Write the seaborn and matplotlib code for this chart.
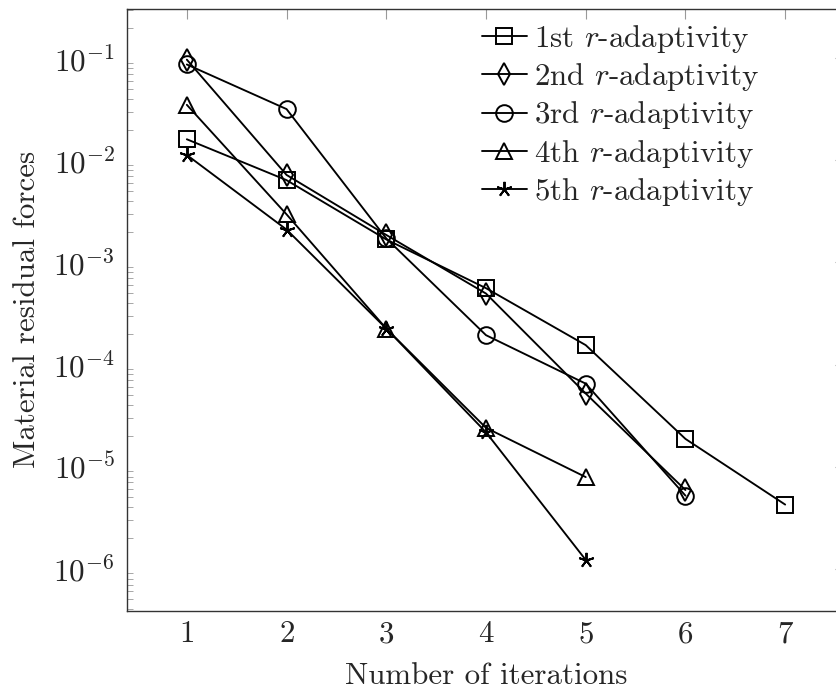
import numpy as np
import pandas as pd
import matplotlib
matplotlib.use("Agg")
import matplotlib.pyplot as plt
import matplotlib.ticker as mticker
import seaborn as sns

sns.set_theme(style="white")
plt.rcParams['font.family'] = 'serif'
plt.rcParams['font.serif'] = ['cmr10', 'DejaVu Serif']
plt.rcParams['mathtext.fontset'] = 'cm'
plt.rcParams['axes.formatter.use_mathtext'] = True
plt.rcParams['axes.unicode_minus'] = False

# =============================================================================
# DATA
# =============================================================================
iters_1 = [1, 2, 3, 4, 5, 6, 7]
res_1 = [1.61e-2, 6.4e-3, 1.68e-3, 5.6e-4, 1.55e-4, 1.87e-5, 4.25e-6]

iters_2 = [1, 2, 3, 4, 5, 6]
res_2 = [9.7e-2, 7.2e-3, 1.86e-3, 4.96e-4, 5.2e-5, 5.9e-6]

iters_3 = [1, 2, 3, 4, 5, 6]
res_3 = [8.7e-2, 3.18e-2, 1.72e-3, 1.94e-4, 6.5e-5, 5.2e-6]

iters_4 = [1, 2, 3, 4, 5]
res_4 = [3.5e-2, 2.96e-3, 2.25e-4, 2.4e-5, 7.9e-6]

iters_5 = [1, 2, 3, 4, 5]
res_5 = [1.13e-2, 2.1e-3, 2.25e-4, 2.17e-5, 1.22e-6]

labels = ['1st $r$-adaptivity', '2nd $r$-adaptivity', '3rd $r$-adaptivity',
          '4th $r$-adaptivity', '5th $r$-adaptivity']
markers = ['s', 'd', 'o', '^', (5, 2, 0)]
marker_sizes = [12, 11, 12, 11, 11]

series = [(iters_1, res_1), (iters_2, res_2), (iters_3, res_3),
          (iters_4, res_4), (iters_5, res_5)]

FS = 22.3  # every text in the reference has the same size

# =============================================================================
# PLOT
# =============================================================================
W, H = 837, 691
fig = plt.figure(figsize=(W / 100, H / 100), dpi=100)
# right spine lies just outside the canvas, as in the reference crop
left, right, top, bottom = 127, 845, 9, 610.7
ax = fig.add_axes([left / W, 1 - bottom / H, (right - left) / W, (bottom - top) / H])

for (xs, ys), lab, mk, ms in zip(series, labels, markers, marker_sizes):
    df = pd.DataFrame({'x': xs, 'y': ys})
    sns.lineplot(data=df, x='x', y='y', ax=ax, color='black', lw=1.35,
                 marker=mk, markersize=ms, mfc='none', mec='black', mew=1.4,
                 label=lab)

ax.set_yscale('log')
ax.set_xlim(0.4, 7.6)
ax.set_ylim(3.88e-7, 3.04e-1)
ax.set_xticks(range(1, 8))
ax.yaxis.set_major_locator(mticker.LogLocator(base=10, numticks=20))
ax.yaxis.set_minor_locator(mticker.LogLocator(base=10, subs=np.arange(2, 10), numticks=20))
ax.yaxis.set_minor_formatter(mticker.NullFormatter())

ax.tick_params(axis='both', which='major', direction='in', length=7, width=0.8,
               color='#999999', top=True, right=True, labelsize=FS)
ax.tick_params(axis='y', which='major', pad=9)
ax.tick_params(axis='x', which='major', pad=7)
ax.tick_params(axis='y', which='minor', direction='in', length=4, width=0.6,
               color='#999999', left=True, right=True)
for sp in ax.spines.values():
    sp.set_color('#333333')
    sp.set_linewidth(1.0)

ax.set_xlabel('Number of iterations', fontsize=FS, labelpad=10)
ax.set_ylabel('Material residual forces', fontsize=FS, labelpad=9)

ax.legend(loc='upper left', bbox_to_anchor=(482 / W, 1 - 23 / H),
          bbox_transform=fig.transFigure,
          frameon=False, fontsize=FS, handlelength=1.45, handletextpad=0.23,
          labelspacing=0.2, borderpad=0, borderaxespad=0)

fig.savefig('out.png', dpi=100)
